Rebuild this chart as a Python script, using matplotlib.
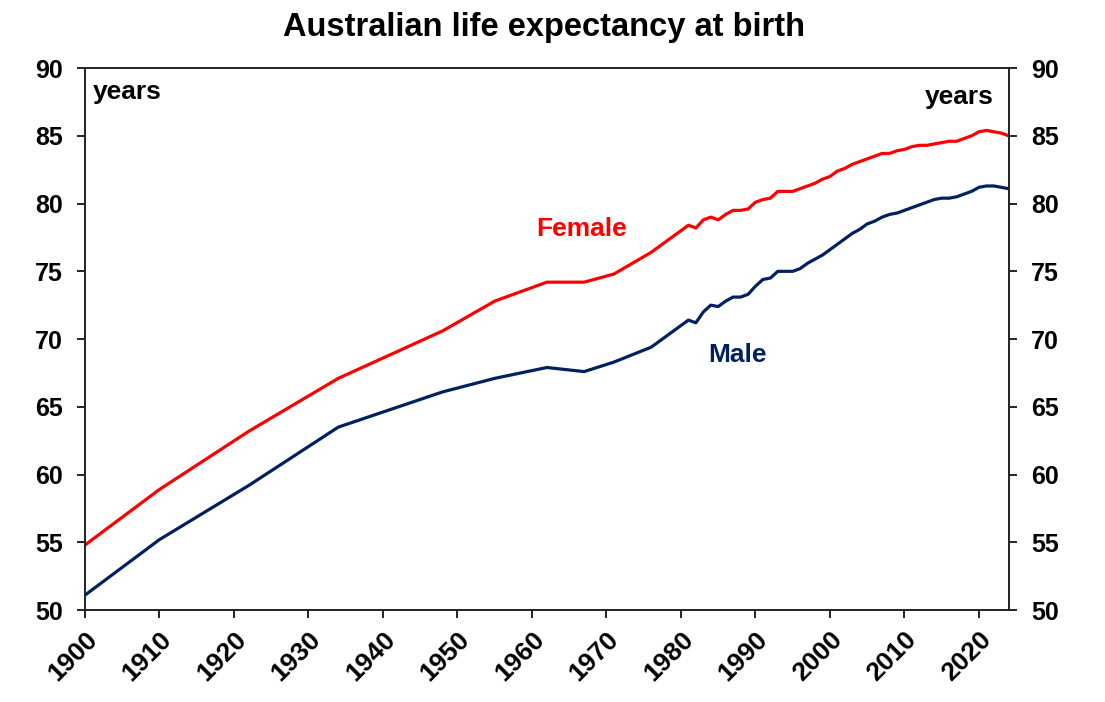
import matplotlib.pyplot as plt

plt.rcParams['font.family'] = ['Liberation Sans', 'DejaVu Sans']
plt.rcParams['font.weight'] = 'bold'

# life table years up to 1982, then annual
years = [1900, 1910, 1922, 1934, 1948, 1955, 1962, 1967, 1971, 1976, 1981,
         1982, 1983, 1984, 1985, 1986, 1987, 1988, 1989, 1990, 1991, 1992,
         1993, 1994, 1995, 1996, 1997, 1998, 1999, 2000, 2001, 2002, 2003,
         2004, 2005, 2006, 2007, 2008, 2009, 2010, 2011, 2012, 2013, 2014,
         2015, 2016, 2017, 2018, 2019, 2020, 2021, 2022, 2023, 2024]

female = [54.8, 58.9, 63.2, 67.1, 70.6, 72.8, 74.2, 74.2, 74.8, 76.4, 78.4,
          78.2, 78.8, 79.0, 78.8, 79.2, 79.5, 79.5, 79.6, 80.1, 80.3, 80.4,
          80.9, 80.9, 80.9, 81.1, 81.3, 81.5, 81.8, 82.0, 82.4, 82.6, 82.9,
          83.1, 83.3, 83.5, 83.7, 83.7, 83.9, 84.0, 84.2, 84.3, 84.3, 84.4,
          84.5, 84.6, 84.6, 84.8, 85.0, 85.3, 85.4, 85.3, 85.2, 85.0]

male = [51.1, 55.2, 59.2, 63.5, 66.1, 67.1, 67.9, 67.6, 68.3, 69.4, 71.4,
        71.2, 72.0, 72.5, 72.4, 72.8, 73.1, 73.1, 73.3, 73.9, 74.4, 74.5,
        75.0, 75.0, 75.0, 75.2, 75.6, 75.9, 76.2, 76.6, 77.0, 77.4, 77.8,
        78.1, 78.5, 78.7, 79.0, 79.2, 79.3, 79.5, 79.7, 79.9, 80.1, 80.3,
        80.4, 80.4, 80.5, 80.7, 80.9, 81.2, 81.3, 81.3, 81.2, 81.1]

xticks = list(range(1900, 2021, 10))
yticks = list(range(50, 91, 5))

fig = plt.figure(figsize=(11.05, 7.02), dpi=100)
ax = fig.add_axes([0.0769, 0.131, 0.836, 0.772])

ax.plot(years, female, color='#FF0000', lw=2.3, solid_joinstyle='round')
ax.plot(years, male, color='#002060', lw=2.3, solid_joinstyle='round')

ax.set_xlim(1900, 2024)
ax.set_ylim(50, 90)
ax.set_xticks(xticks)
ax.set_xticklabels([str(y) for y in xticks], rotation=45, ha='right',
                   rotation_mode='anchor', fontsize=19, fontweight='bold')
ax.set_yticks(yticks)
ax.set_yticklabels([str(y) for y in yticks], fontsize=18, fontweight='bold')
ax.tick_params(axis='x', direction='out', length=6, width=1.2, pad=6)
ax.tick_params(axis='y', direction='out', length=6, width=1.2, pad=10)

ax2 = ax.twinx()
ax2.set_ylim(50, 90)
ax2.set_yticks(yticks)
ax2.set_yticklabels([str(y) for y in yticks], fontsize=18, fontweight='bold')
ax2.tick_params(axis='y', direction='out', length=6, width=1.2, pad=10)

for a in (ax, ax2):
    for s in a.spines.values():
        s.set_linewidth(1.2)
        s.set_color('#222222')

ax.text(0.008, 0.955, 'years', transform=ax.transAxes, fontsize=19,
        fontweight='bold', ha='left', va='center')
ax.text(0.984, 0.946, 'years', transform=ax.transAxes, fontsize=19,
        fontweight='bold', ha='right', va='center')

ax.text(1966.6, 78.1, 'Female', color='#FF0000', fontsize=19,
        fontweight='bold', ha='center', va='center')
ax.text(1987.6, 68.85, 'Male', color='#002060', fontsize=19,
        fontweight='bold', ha='center', va='center')

fig.suptitle('Australian life expectancy at birth', x=0.492, y=0.983,
             fontsize=23.5, fontweight='bold')

fig.savefig('out.png', dpi=100)
